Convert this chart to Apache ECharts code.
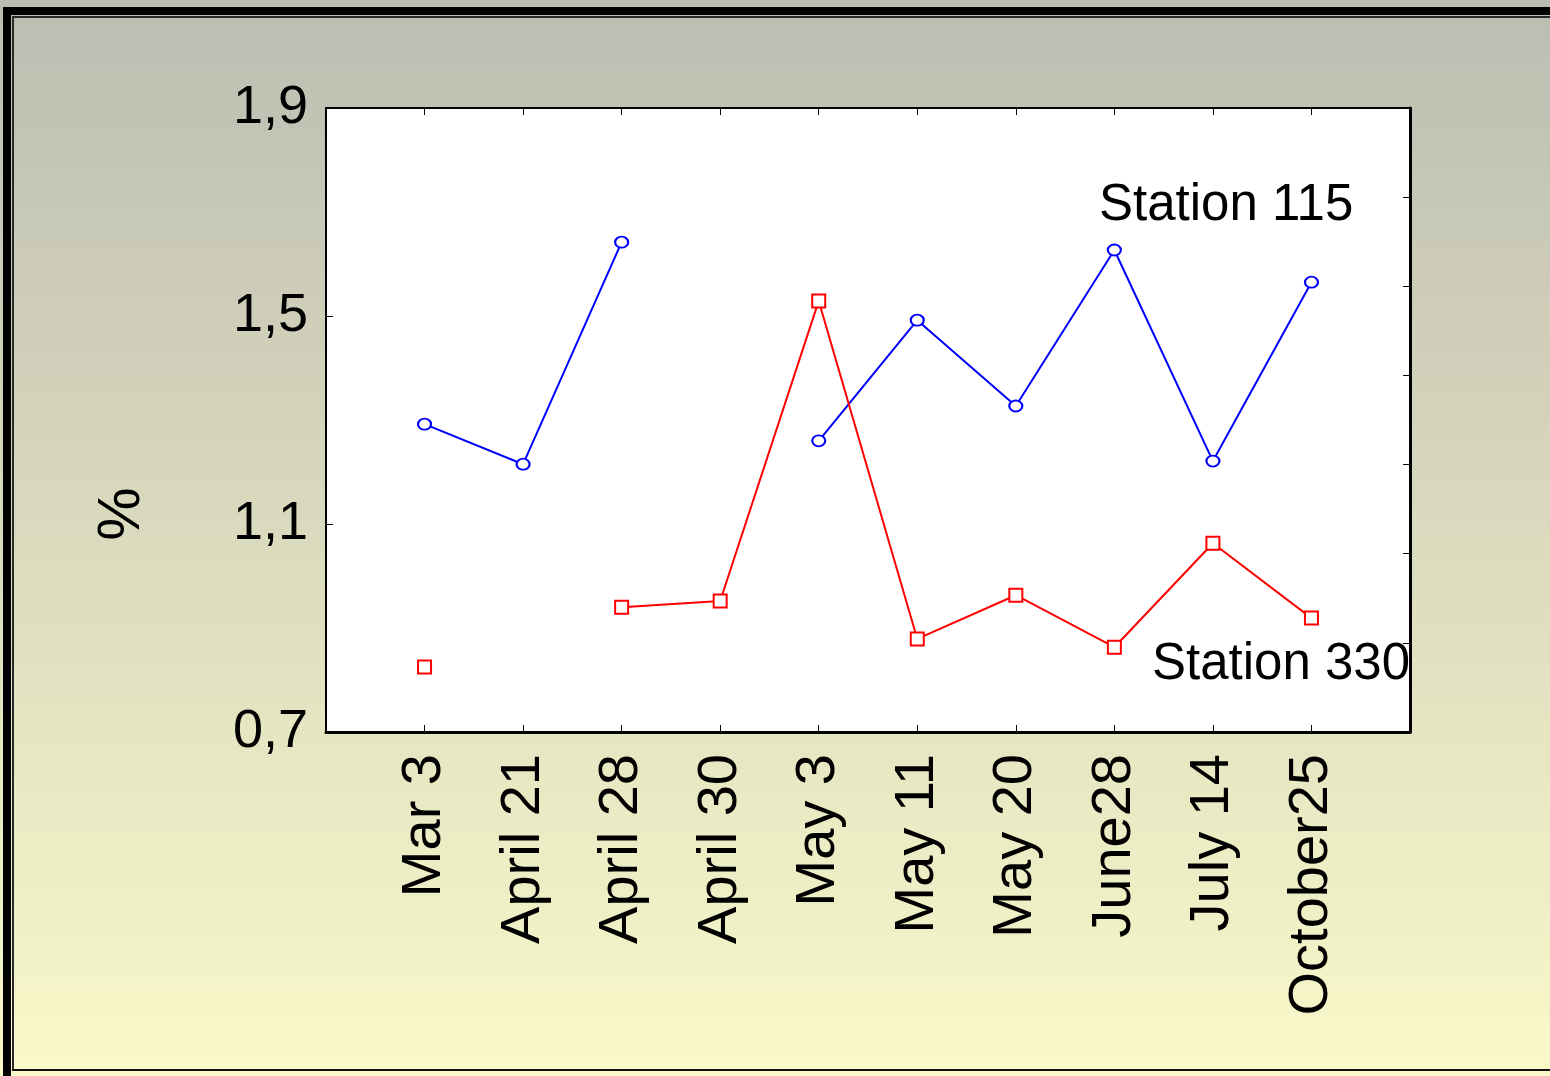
<!DOCTYPE html>
<html>
<head>
<meta charset="utf-8">
<script src="https://cdn.jsdelivr.net/npm/echarts@6/dist/echarts.min.js"></script>
<style>html,body{margin:0;padding:0;}#c{width:1550px;height:1076px;}</style>
</head>
<body>
<div id="c"></div>
<script>
const categories = ['Mar 3','April 21','April 28','April 30','May 3','May 11','May 20','June28','July 14','October25'];
const station115 = [1.292, 1.215, 1.642, null, 1.260, 1.492, 1.327, 1.627, 1.221, 1.565];
const station330 = [0.825, null, 0.940, 0.952, 1.529, 0.879, 0.963, 0.863, 1.063, 0.919];
const yTicks = [0.7, 1.1, 1.5, 1.9];

// pad one empty slot at each end of the category axis
const cats = [''].concat(categories, ['']);
const pad = a => [null].concat(a, [null]);

const chart = echarts.init(document.getElementById('c'), null, {renderer: 'canvas'});
const FONT = 'Liberation Sans, Arial, sans-serif';
chart.setOption({
  animation: false,
  backgroundColor: {
    type: 'linear', x: 0, y: 0, x2: 0, y2: 1,
    colorStops: [{offset: 0, color: '#bcbcb2'}, {offset: 1, color: '#f9f9ca'}]
  },
  grid: {left: 326, top: 108, width: 1084, height: 624, show: true,
         backgroundColor: '#ffffff', borderColor: '#000', borderWidth: 2},
  xAxis: [{
    type: 'category', data: cats, boundaryGap: false, position: 'bottom',
    axisLine: {show: true, lineStyle: {color: '#000', width: 3}},
    axisTick: {show: true, inside: true, length: 7, lineStyle: {color: '#000', width: 1}},
    axisLabel: {show: true, rotate: 90, interval: 0, margin: 22, color: '#000',
                fontSize: 56, fontFamily: FONT},
    splitLine: {show: false}
  }, {
    type: 'category', data: cats, boundaryGap: false, position: 'top',
    axisLine: {show: true, lineStyle: {color: '#000', width: 2}},
    axisTick: {show: true, inside: true, length: 7, interval: 0, lineStyle: {color: '#000', width: 1}},
    axisLabel: {show: false}, splitLine: {show: false}
  }],
  yAxis: [{
    type: 'value', min: yTicks[0], max: yTicks[yTicks.length - 1], interval: 0.4, position: 'left',
    axisLine: {show: true, lineStyle: {color: '#000', width: 2}},
    axisTick: {show: true, inside: true, length: 7, lineStyle: {color: '#000', width: 1}},
    axisLabel: {show: true, margin: 18, color: '#000', fontSize: 54, fontFamily: FONT,
                formatter: v => v.toFixed(1).replace('.', ',')},
    splitLine: {show: false}
  }, {
    type: 'value', min: 0, max: 7, interval: 1, position: 'right',
    axisLine: {show: true, lineStyle: {color: '#000', width: 3}},
    axisTick: {show: true, inside: true, length: 7, lineStyle: {color: '#000', width: 1}},
    axisLabel: {show: false}, splitLine: {show: false}
  }],
  series: [{
    name: 'Station 115', type: 'line', xAxisIndex: 0, yAxisIndex: 0,
    data: pad(station115), connectNulls: false,
    symbol: 'emptyCircle', symbolSize: [13, 11],
    lineStyle: {color: '#0000ff', width: 2},
    itemStyle: {color: '#0000ff', borderColor: '#0000ff', borderWidth: 2}
  }, {
    name: 'Station 330', type: 'line', xAxisIndex: 0, yAxisIndex: 0,
    data: pad(station330), connectNulls: false,
    symbol: 'rect', symbolSize: 13,
    lineStyle: {color: '#ff0000', width: 2},
    itemStyle: {color: '#ffffff', borderColor: '#ff0000', borderWidth: 2}
  }],
  graphic: [
    {type: 'text', x: 122, y: 514, rotation: Math.PI / 2,
     style: {text: '%', fill: '#000', font: '60px ' + FONT, align: 'center', verticalAlign: 'middle'}},
    {type: 'text', left: 1099, top: 180, style: {text: 'Station 115', fill: '#000', font: '51px ' + FONT}},
    {type: 'text', left: 1152, top: 639, style: {text: 'Station 330', fill: '#000', font: '51px ' + FONT}},
    {type: 'rect', shape: {x: 3, y: 7, width: 1547, height: 8}, style: {fill: '#000'}},
    {type: 'rect', shape: {x: 3, y: 7, width: 8, height: 1069}, style: {fill: '#000'}},
    {type: 'rect', shape: {x: 12, y: 16, width: 1538, height: 2}, style: {fill: '#2a2a2a'}},
    {type: 'rect', shape: {x: 12, y: 16, width: 2, height: 1055}, style: {fill: '#2a2a2a'}},
    {type: 'rect', shape: {x: 12, y: 1069, width: 1538, height: 2}, style: {fill: '#111'}}
  ]
});
</script>
</body>
</html>
